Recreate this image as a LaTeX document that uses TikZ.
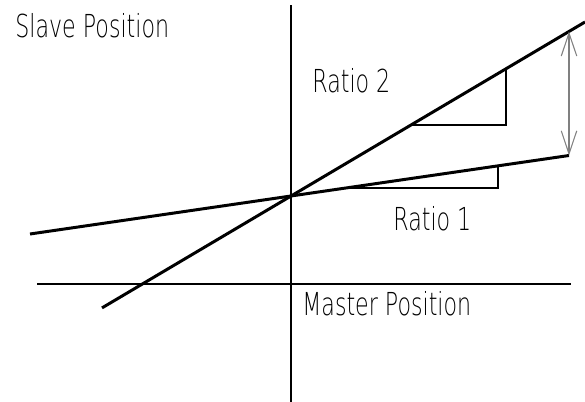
\documentclass[tikz,border=0pt]{standalone}
\usepackage{fontspec}
\newfontfamily\cadfont[FakeStretch=0.7]{DejaVu Sans ExtraLight}
\usetikzlibrary{arrows.meta}

\begin{document}
\begin{tikzpicture}[x=0.02cm, y=-0.02cm,
    axis/.style={line width=1.7pt, line cap=rect},
    ratioline/.style={line width=1.7pt},
    slopebox/.style={line width=1.7pt, line join=miter},
    gap/.style={gray, line width=0.6pt,
                {Straight Barb[length=0.46cm, width=0.31cm]}-{Straight Barb[length=0.46cm, width=0.31cm]}},
    label/.style={anchor=base west, inner sep=0pt, font=\cadfont\fontsize{18}{18}\selectfont}]
  \useasboundingbox (0,0) rectangle (585,402);

  % axes
  \coordinate (O) at (291,196);
  \coordinate (ytop) at (291,6);
  \coordinate (ybot) at (291,402);
  \coordinate (xleft) at (38,284);
  \coordinate (xright) at (570,284);
  \draw[axis] (ytop) -- (ybot);
  \draw[axis] (xleft) -- (xright);

  % the two ratio lines
  \coordinate (r2a) at (102,307.9);
  \coordinate (r2b) at (585,22);
  \coordinate (r1a) at (30,234);
  \coordinate (r1b) at (569,155.5);
  \draw[ratioline] (r2a) -- (r2b);
  \draw[ratioline] (r1a) -- (r1b);

  % slope triangles
  \coordinate (t2a) at (411,125);
  \coordinate (t2b) at (506,125);
  \coordinate (t2c) at (506,68.7);
  \draw[slopebox] (t2a) -- (t2b) -- (t2c);
  \coordinate (t1a) at (346,188);
  \coordinate (t1b) at (498,188);
  \coordinate (t1c) at (498,165.8);
  \draw[slopebox] (t1a) -- (t1b) -- (t1c);

  % difference arrow
  \coordinate (gtop) at (569,31.4);
  \draw[gap] (gtop) -- (r1b);

  % texts
  \node[label] (slave) at (15,38) {Slave Position};
  \node[label] (ratiotwo) at (312,92) {Ratio 2};
  \node[label] (ratioone) at (393,230) {Ratio 1};
  \node[label] (master) at (302,315) {Master Position};
\end{tikzpicture}
\end{document}
